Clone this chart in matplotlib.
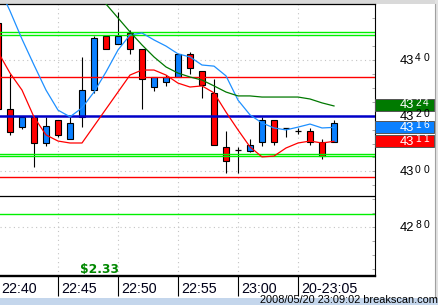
import matplotlib
matplotlib.use("Agg")
import matplotlib.pyplot as plt
import matplotlib.transforms as mtransforms
from matplotlib.patches import Rectangle
from matplotlib.lines import Line2D
import numpy as np

# ---------------- data ----------------
times = ["22:40", "22:41", "22:42", "22:43", "22:44", "22:45", "22:46", "22:47",
         "22:48", "22:49", "22:50", "22:51", "22:52", "22:53", "22:54", "22:55",
         "22:56", "22:57", "22:58", "22:59", "23:00", "23:01", "23:02", "23:03",
         "23:04", "23:05", "23:06", "23:07", "23:08"]
opens = [4353.3, 4322.4, 4316.1, 4319.6, 4310.3, 4318.5, 4311.5, 4319.4,
         4329.2, 4348.6, 4345.6, 4349.6, 4343.8, 4330.2, 4332.0, 4334.0,
         4342.0, 4336.1, 4328.0, 4308.8, 4307.7, 4307.4, 4310.5, 4318.5,
         4315.5, 4314.5, 4314.5, 4310.5, 4310.5]
highs = [4354.0, 4335.0, 4319.5, 4320.0, 4319.6, 4318.5, 4319.6, 4341.0,
         4348.6, 4348.6, 4357.3, 4350.8, 4343.8, 4334.0, 4334.5, 4342.0,
         4343.0, 4336.1, 4333.1, 4314.5, 4308.9, 4311.6, 4319.4, 4318.5,
         4315.5, 4315.7, 4315.5, 4311.6, 4318.5]
lows = [4322.0, 4313.1, 4315.2, 4301.6, 4309.1, 4312.5, 4311.5, 4316.1,
        4328.0, 4343.8, 4345.6, 4342.0, 4322.3, 4329.0, 4330.8, 4334.0,
        4335.0, 4326.3, 4309.4, 4299.5, 4299.5, 4306.9, 4309.1, 4309.4,
        4312.5, 4313.4, 4309.4, 4304.4, 4310.5]
closes = [4322.4, 4314.1, 4319.4, 4310.3, 4316.3, 4313.1, 4317.3, 4329.2,
          4347.8, 4343.8, 4348.6, 4343.8, 4333.1, 4334.0, 4334.0, 4342.0,
          4337.0, 4331.0, 4309.4, 4303.6, 4307.7, 4309.5, 4318.5, 4310.5,
          4315.5, 4314.5, 4310.5, 4305.6, 4317.3]

ma_blue = [4366.9, 4357.6, 4347.5, 4338.2, 4329.2, 4322.0, 4319.6, 4322.8,
           4328.5, 4335.7, 4343.6, 4349.0, 4349.7, 4347.2, 4345.0, 4342.2,
           4341.1, 4338.2, 4337.8, 4334.3, 4325.6, 4320.3, 4317.4, 4315.6,
           4314.9, 4315.9, 4317.0, 4315.6, 4315.8]
ma_red = [4342.9, 4335.3, 4329.2, 4319.5, 4313.1, 4310.9, 4310.2, 4310.2,
          4316.3, 4322.4, 4328.5, 4334.6, 4336.4, 4336.4, 4334.6, 4331.7,
          4330.3, 4330.7, 4328.2, 4321.3, 4314.9, 4308.8, 4305.2, 4305.5,
          4308.4, 4310.2, 4310.9, 4310.2, 4310.8]
ma_green = [np.nan] * 8 + [4364.4, 4360.1, 4355.1, 4350.1, 4345.4, 4341.1,
                           4337.5, 4335.3, 4333.9, 4332.8, 4330.7, 4328.5,
                           4327.1, 4327.1, 4326.7, 4326.7, 4326.7, 4326.7,
                           4326.0, 4324.6, 4323.5]

levels_green = [4350.0, 4349.0, 4306.4, 4305.5, 4284.7]
levels_red = [4333.9, 4298.0]
levels_black = [4291.1]
level_blue = 4320.0

price_ticks = [4340, 4320, 4300, 4280]
last_green, last_blue, last_red = 4324, 4316, 4311
x_tick_idx = [0, 5, 10, 15, 20, 25]
x_tick_labels = ["22:40", "22:45", "22:50", "22:55", "23:00", "20-23:05"]
pnl_text = "$2.33"
stamp_text = "2008/05/20 23:09:02 breakscan.com"

# ---------------- layout ----------------
W, H = 438, 305
PX = 2.785  # pixels per price unit


def fx(px):
    return px / W


def fy(py):
    return 1 - py / H


fig = plt.figure(figsize=(W / 100, H / 100), dpi=100)
fig.patch.set_facecolor("white")

# background strips
fig.add_artist(Rectangle((0, fy(3.5)), 1, 3.5 / H, transform=fig.transFigure,
                         facecolor="#D9D9D9", edgecolor="none", zorder=0))
fig.add_artist(Rectangle((fx(434.5), 0), 4 / W, 1, transform=fig.transFigure,
                         facecolor="#E2E2E2", edgecolor="none", zorder=0))
fig.add_artist(Line2D([fx(434.5), fx(434.5)], [fy(298), fy(3.5)],
                      transform=fig.transFigure, color="#A0A0A0", lw=0.8))
fig.add_artist(Rectangle((0, 0), 1, 7 / H, transform=fig.transFigure,
                         facecolor="#C4D6EC", edgecolor="none", zorder=0))

ax = fig.add_axes([0, fy(276), fx(374.5), (276 - 4) / H])
ax.set_facecolor("white")
ax.set_xlim(2 / 12, (374.5 + 2) / 12)
ax.set_ylim(4340 - 216 / PX, 4340 + 56 / PX)

ax.spines["left"].set_visible(False)
ax.spines["top"].set_linewidth(0.9)
ax.spines["right"].set_linewidth(0.8)
ax.spines["bottom"].set_linewidth(1.7)

ax.set_xticks([5, 10, 15, 20, 25])
ax.tick_params(axis="x", direction="out", length=14.4, width=0.8,
               color="black", labelbottom=False)
ax.yaxis.tick_right()
ax.set_yticks(np.arange(4265, 4361, 5))
ax.tick_params(axis="y", direction="in", length=2.5, width=0.7,
               colors="#A8A8A8", labelright=False)

# dotted grid
for v in price_ticks:
    ax.axhline(v, color="#C4C4C4", lw=0.8, ls=(0, (1, 3)), zorder=1)
for i in [5, 10, 15, 20, 25]:
    ax.axvline(i, color="#C4C4C4", lw=0.8, ls=(0, (1, 3)), zorder=1)

# candles
idx = np.arange(len(times))
o = np.array(opens)
c = np.array(closes)
hi = np.array(highs)
lo = np.array(lows)
ax.vlines(idx, lo, hi, color="black", lw=0.8, zorder=3)
body = np.abs(c - o) > 0.05
cols = np.where(c > o, "#0A80FF", "#FF0000")
ax.bar(idx[body], np.abs(c - o)[body], bottom=np.minimum(o, c)[body],
       width=0.46, color=cols[body], edgecolor="black", linewidth=0.8, zorder=4)
doji = ~body
ax.hlines(o[doji], idx[doji] - 0.25, idx[doji] + 0.25, color="black",
          lw=0.9, zorder=4)

# horizontal levels
for v in levels_green:
    ax.axhline(v, color="#00F000", lw=1.0, zorder=5)
for v in levels_red:
    ax.axhline(v, color="#FF0000", lw=1.0, zorder=5)
for v in levels_black:
    ax.axhline(v, color="black", lw=0.9, zorder=5)
ax.axhline(level_blue, color="#0000C8", lw=1.8, zorder=5)

# moving averages
ax.plot(idx, ma_blue, color="#1E90FF", lw=0.9, zorder=6)
ax.plot(idx, ma_red, color="#FF0000", lw=0.9, zorder=6)
ax.plot(idx, ma_green, color="#007800", lw=0.9, zorder=6)

# right price panel
trans = mtransforms.blended_transform_factory(fig.transFigure, ax.transData)


def price_label(v, color):
    s = f"{v:.0f}"
    base = v - 3.8 / PX
    fig.text(fx(414.5), base, s[:2], transform=trans, ha="right",
             va="baseline", fontsize=9.3, family="Liberation Sans", color=color)
    fig.text(fx(415), base + 2.4 / PX, s[2], transform=trans, ha="left",
             va="baseline", fontsize=7.4, family="Liberation Sans", color=color)
    fig.text(fx(423.2), base + 2.4 / PX, s[3], transform=trans, ha="left",
             va="baseline", fontsize=7.4, family="Liberation Sans", color=color)


for v in price_ticks:
    price_label(v, "black")

for v, bc in [(last_green, "#007A00"), (last_blue, "#0A80FF"),
              (last_red, "#FF0000")]:
    fig.add_artist(Rectangle((fx(375), v - 6 / PX), fx(433.5) - fx(375),
                             12 / PX, transform=trans, facecolor=bc,
                             edgecolor="#555555", lw=0.7, zorder=2))
    price_label(v, "white")

# time labels
tx = mtransforms.blended_transform_factory(ax.transData, fig.transFigure)
for i, lab in zip(x_tick_idx, x_tick_labels):
    fig.text(i + 3.5 / 12, fy(293.3), lab, transform=tx, ha="left",
             va="baseline", fontsize=10.3, family="Liberation Sans",
             color="#000018")

fig.text(fx(80), fy(273.3), pnl_text, ha="left", va="baseline",
         fontsize=8.8, family="DejaVu Sans", weight="bold", color="#008800")
fig.text(fx(437.5), fy(303.3), stamp_text, ha="right", va="baseline",
         fontsize=7.9, family="Liberation Sans", color="black")

fig.savefig("out.png", dpi=100, facecolor=fig.get_facecolor())
